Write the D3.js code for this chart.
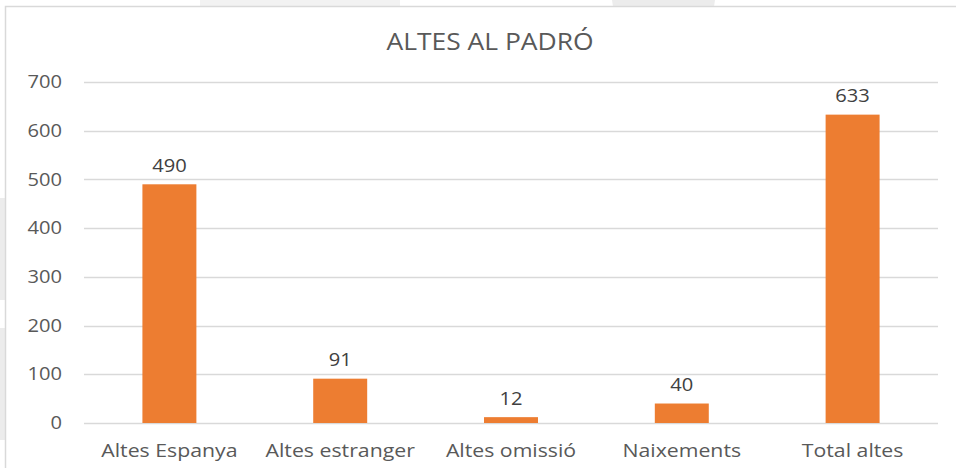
<!DOCTYPE html>
<html><head><meta charset="utf-8">
<script src="https://cdn.jsdelivr.net/npm/d3@7"></script>
<style>body{margin:0;background:#fff}svg{display:block}</style>
</head><body>
<svg id="c" width="956" height="468"></svg>
<script>
const categories = ["Altes Espanya","Altes estranger","Altes omissió","Naixements","Total altes"];
const values = [490, 91, 12, 40, 633];
const yTicks = [0,100,200,300,400,500,600,700];
const title = "ALTES AL PADRÓ";

const svg = d3.select("#c");
const font = "'Open Sans', sans-serif";
const textColor = "#595959";
const sx = 1.15; // horizontal stretch of the reference text

// background decorative shapes
svg.append("rect").attr("x",0).attr("y",0).attr("width",956).attr("height",468).attr("fill","#fff");
svg.append("path").attr("d","M612,0 L715,0 L712,20 L615,20 Z").attr("fill","#ececec");
svg.append("rect").attr("x",200).attr("y",0).attr("width",200).attr("height",6).attr("fill","#f2f2f2");
svg.append("rect").attr("x",0).attr("y",198).attr("width",5).attr("height",102).attr("fill","#ececec");
svg.append("rect").attr("x",0).attr("y",328).attr("width",5).attr("height",112).attr("fill","#ececec");
// chart frame
svg.append("rect").attr("x",5.5).attr("y",6.5).attr("width",960).attr("height",470)
  .attr("fill","#fff").attr("stroke","#d9d9d9").attr("stroke-width",1.5);

const m = {left:84, right:938, top:82, bottom:423};
const x = d3.scaleBand().domain(categories).range([m.left,m.right]).paddingInner(0.684).paddingOuter(0.342);
const y = d3.scaleLinear().domain([0,700]).range([m.bottom,m.top]);

// gridlines
svg.append("g").selectAll("line").data(yTicks).join("line")
  .attr("x1",m.left).attr("x2",m.right)
  .attr("y1",d=>Math.round(y(d))+0.5).attr("y2",d=>Math.round(y(d))+0.5)
  .attr("stroke","#d9d9d9").attr("stroke-width",1.3);

// y axis labels
const ya = svg.append("g").attr("transform",`translate(62,0)`)
  .call(d3.axisLeft(y).tickValues(yTicks).tickSize(0).tickPadding(0));
ya.select(".domain").remove();
ya.selectAll("text").attr("x",0).attr("font-family",font).attr("font-size",17.5).attr("fill",textColor)
  .attr("transform",`scale(${sx},1)`);

// bars
svg.append("g").selectAll("rect").data(values).join("rect")
  .attr("x",(d,i)=>x(categories[i])).attr("width",x.bandwidth())
  .attr("y",d=>y(d)).attr("height",d=>y(0)-y(d)).attr("fill","#ed7d31");

// value labels
svg.append("g").selectAll("text").data(values).join("text")
  .attr("transform",(d,i)=>`translate(${x(categories[i])+x.bandwidth()/2},${y(d)-12.5}) scale(${sx},1)`)
  .attr("text-anchor","middle").attr("font-family",font).attr("font-size",17.5).attr("fill","#404040")
  .text(d=>d);

// x axis
const xa = svg.append("g").attr("transform",`translate(0,${m.bottom})`)
  .call(d3.axisBottom(x).tickSize(0));
xa.select(".domain").remove();
xa.selectAll("text").attr("y",34).attr("dy",0).attr("font-family",font).attr("font-size",18.5).attr("fill",textColor)
  .attr("transform",`scale(${sx},1)`);

// title
svg.append("text").attr("transform",`translate(490,49.5) scale(${sx},1)`).attr("text-anchor","middle")
  .attr("font-family",font).attr("font-size",23).attr("fill",textColor).text(title);
</script>
</body></html>
